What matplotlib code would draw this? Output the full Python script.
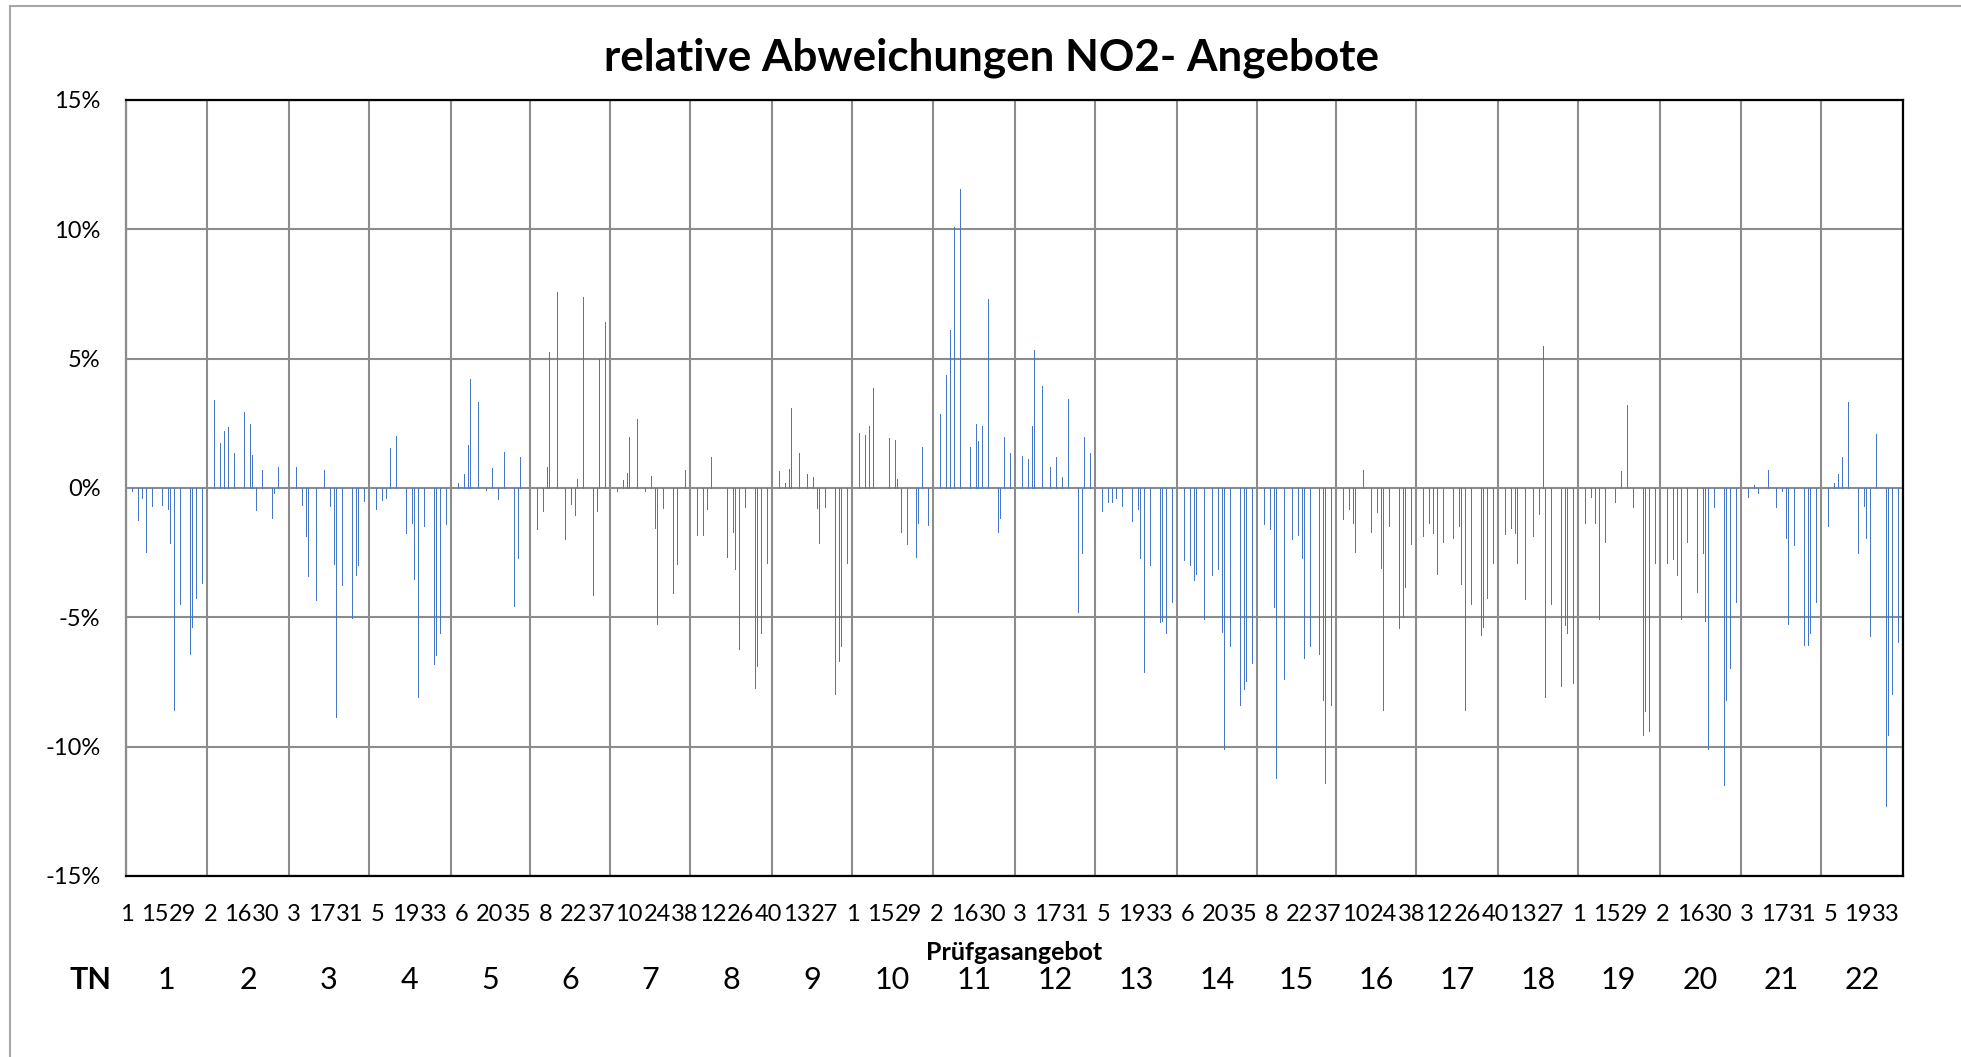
import numpy as np
import matplotlib.pyplot as plt
import matplotlib.transforms as mtransforms
from matplotlib.lines import Line2D
from matplotlib.ticker import PercentFormatter

plt.rcParams['font.family'] = ['Lato', 'DejaVu Sans']
plt.rcParams['axes.unicode_minus'] = False

# Anzahl Prüfgasangebote je Teilnehmer (TN 1..22)
n_angebote = [41, 41, 40, 41, 40, 40, 40, 41, 40,
              41, 41, 40, 41, 40, 40, 40, 41, 40,
              41, 41, 40, 41]

# Angebote (0-basiert innerhalb des TN), zu denen ein Wert existiert
slots_41 = [3, 6, 8, 10, 13, 18, 21, 22, 24, 27, 32, 33, 35, 38]
slots_40 = [3, 6, 8, 9, 13, 17, 20, 22, 23, 26, 31, 33, 34, 37]

# relative Abweichung in % (None = kein Wert)
tn01 = [-0.1, -1.25, -0.37, -2.47, -0.7, -0.66, -0.8, -2.12, -8.58, -4.5, -6.4, -5.39, -4.26, -3.68]
tn02 = [3.42, 1.75, 2.22, 2.35, 1.34, 2.92, 2.49, 1.28, -0.86, 0.7, -1.15, -0.2, 0.8, None]
tn03 = [0.8, -0.66, -1.87, -3.39, -4.32, 0.68, -0.7, -2.92, -8.87, -3.74, -5.04, -3.35, -2.96, -0.49]
tn04 = [-0.8, -0.47, -0.37, 1.56, 2.0, -1.75, -1.36, -3.52, -8.09, -1.46, -6.81, -6.44, -5.62, -1.4]
tn05 = [0.19, 0.54, 1.67, 4.22, 3.31, -0.06, 0.78, None, -0.43, 1.38, -4.55, -2.72, 1.2, None]
tn06 = [-1.58, -0.9, 0.8, 5.25, 7.57, -1.98, -0.62, -1.05, 0.35, 7.37, -4.14, -0.88, 4.98, 6.42]
tn07 = [-0.12, 0.31, 0.58, 1.96, 2.68, -0.12, 0.45, -1.54, -5.27, -0.76, -4.07, -2.94, None, 0.7]
tn08 = [-1.83, -1.83, -0.8, 1.19, None, -2.67, -1.71, -3.13, -6.21, -0.74, -7.73, -6.89, -5.62, -2.9]
tn09 = [0.64, 0.21, 0.74, 3.09, 1.34, 0.53, 0.43, -0.78, -2.12, -0.74, -7.98, -6.67, -6.11, -2.9]
tn10 = [2.14, 2.06, 2.41, 3.85, None, 1.93, 1.85, 0.35, -1.69, -2.18, -2.65, -1.34, 1.58, -1.44]
tn11 = [2.88, 4.36, 6.09, 10.1, 11.56, 1.58, 2.49, 1.83, 2.41, 7.32, -1.69, -1.15, 1.98, 1.36]
tn12 = [1.25, 1.11, 2.41, 5.33, 3.95, 0.8, 1.19, None, 0.41, 3.46, -4.8, -2.53, 1.98, 1.36]
tn13 = [-0.88, -0.56, -0.56, -0.39, -0.7, -1.26, -0.8, -2.71, -7.12, -2.96, -5.18, -5.16, -5.62, -4.4]
tn14 = [-2.78, -2.98, -3.54, -3.33, -5.06, -3.37, -3.13, -5.58, -10.1, -6.09, -8.37, -7.76, -7.47, -6.75]
tn15 = [-1.38, -1.58, -4.59, -11.2, -7.39, -1.98, -1.83, -2.71, -6.56, -6.11, -6.42, -8.21, -11.4, -8.4]
tn16 = [-1.21, -0.8, -1.34, -2.47, 0.68, -1.69, -0.91, -3.11, -8.58, -1.46, -5.41, -5.0, -3.81, -2.16]
tn17 = [-1.87, -1.34, -1.73, -3.33, -2.08, -1.93, -1.46, -3.72, -8.58, -4.5, -5.7, -5.39, -4.24, -2.9]
tn18 = [-1.79, -1.56, -1.73, -2.9, -4.3, -1.87, -1.01, 5.5, -8.09, -4.5, -7.67, -5.31, -5.62, -7.53]
tn19 = [-1.36, -0.33, -1.34, -5.08, -2.1, -0.53, 0.66, None, 3.21, -0.72, -9.55, -8.64, -9.4, -2.9]
tn20 = [-2.9, -2.74, -3.35, -5.08, -2.1, -4.03, -2.53, -5.16, -10.08, -0.72, -11.48, -8.19, -6.96, -4.4]
tn21 = [-0.33, 0.1, -0.2, None, 0.68, -0.72, -0.12, -1.93, -5.27, -2.2, -6.07, -6.07, -5.62, -4.4]
tn22 = [-1.48, 0.19, 0.56, 1.19, 3.31, -2.51, -0.68, -1.93, -5.72, 2.08, -12.3, -9.55, -7.98, -5.95]

tn_werte = [tn01, tn02, tn03, tn04, tn05, tn06, tn07, tn08, tn09, tn10, tn11,
            tn12, tn13, tn14, tn15, tn16, tn17, tn18, tn19, tn20, tn21, tn22]

# Beschriftung der Kategorieachse (jede 14. Kategorie), wie im Original
zyklus = ["1", "15", "29", "2", "16", "30", "3", "17", "31", "5", "19", "33",
          "6", "20", "35", "8", "22", "37", "10", "24", "38", "12", "26", "40",
          "13", "27"]
x_labels = zyklus + zyklus + zyklus[:12]
label_step = 14

# Daten auf Kategorieachse bringen
total = sum(n_angebote)
xs, ys = [], []
start = 0
for n, werte in zip(n_angebote, tn_werte):
    slots = slots_41 if n == 41 else slots_40
    for s, w in zip(slots, werte):
        if w is not None:
            xs.append(start + s)
            ys.append(w / 100)
    start += n

grenzen = np.cumsum([0] + n_angebote) - 0.5
mitten = (grenzen[:-1] + grenzen[1:]) / 2

W, H = 1961, 1057
fig = plt.figure(figsize=(W / 100, H / 100), dpi=100)
ax = fig.add_axes([125.5 / W, 1 - 876 / H, (1903 - 125.5) / W, 776 / H])

# schmale Säulen (ca. 1 px breit)
ax.vlines(xs, 0, ys, colors='#4677c6', linewidth=0.5, antialiased=False, zorder=3)

ax.set_xlim(-0.5, total - 0.5)
ax.set_ylim(-0.15, 0.15)
ax.set_yticks(np.arange(-0.15, 0.151, 0.05))
ax.yaxis.set_major_formatter(PercentFormatter(1.0, decimals=0))

gridcol = '#8c8c8c'
ax.yaxis.grid(True, color=gridcol, lw=1.5, zorder=1)
ax.set_xticks(grenzen, minor=True)
ax.grid(which='minor', axis='x', color=gridcol, lw=1.5, zorder=1)
ax.set_xticks(np.arange(0, total, label_step))
ax.set_xticklabels(x_labels)
ax.tick_params(axis='x', which='both', length=0, labelsize=17, pad=20)
ax.tick_params(axis='y', length=0, labelsize=17, pad=18)

for side in ['top', 'right', 'bottom']:
    ax.spines[side].set_color('black')
    ax.spines[side].set_linewidth(1.6)
ax.spines['left'].set_color(gridcol)
ax.spines['left'].set_linewidth(1.6)

fig.text(991 / W, 1 - 58 / H, "relative Abweichungen NO2- Angebote",
         ha='center', va='center', fontsize=31.7, fontweight='bold')
fig.text(1014 / W, 1 - 952 / H, "Prüfgasangebot",
         ha='center', va='center', fontsize=18, fontweight='bold')
fig.text(90 / W, 1 - 980 / H, "TN", ha='center', va='center',
         fontsize=22, fontweight='bold')

trans = mtransforms.blended_transform_factory(ax.transData, fig.transFigure)
for i, m in enumerate(mitten):
    ax.text(m, 1 - 980 / H, str(i + 1), transform=trans, ha='center',
            va='center', fontsize=22)

# Rahmen des Diagrammbereichs
fig.add_artist(Line2D([10 / W, 10 / W], [0, 1 - 6 / H], color='#a6a6a6', lw=1.5))
fig.add_artist(Line2D([10 / W, 1], [1 - 6 / H, 1 - 6 / H], color='#a6a6a6', lw=1.5))

fig.savefig("out.png", dpi=100)
